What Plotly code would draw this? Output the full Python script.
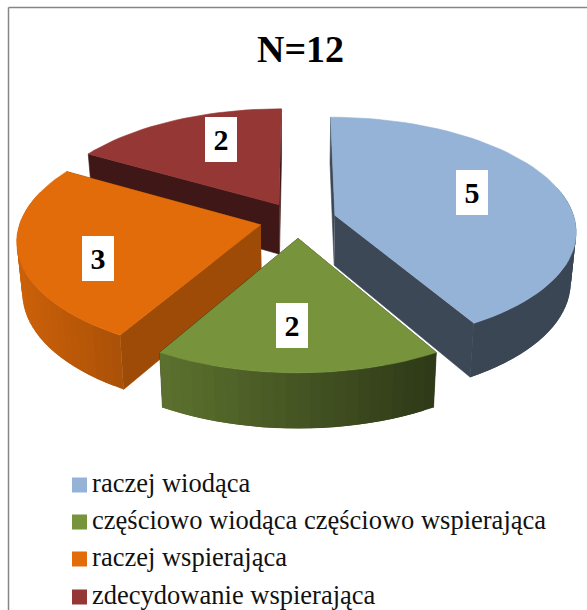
import numpy as np
import plotly.graph_objects as go

categories = ["raczej wiodąca", "częściowo wiodąca częściowo wspierająca",
              "raczej wspierająca", "zdecydowanie wspierająca"]
values = [5, 2, 3, 2]
colors = ["#95b3d7", "#77933c", "#e26b0a", "#953735"]
title_text = "N=12"

# pseudo-3D pie geometry (pixels)
CX, CY, R, RB, K, EXPLODE, H, DEPTH_SCALE = 298, 220, 240, 112, 0.129, 0.16, 50, 0.98
CUT_SHADE = [0.40, 0.40, 0.70, 0.42]
DRAW_ORDER = [3, 0, 2, 1]
LABEL_POS = [(472, 192.5), (292, 325.5), (98, 258.5), (221, 139.5)]


def top(u, v):
    w = 1 + K * v
    return CX + R * u / w, CY - RB * v / w


def bottom(u, v):
    x, y = top(u, v)
    w = 1 + K * v
    return CX + (x - CX) * DEPTH_SCALE, CY + (y - CY) * DEPTH_SCALE + H / w


def shade(hex_color, f):
    r, g, b = (int(hex_color[i:i + 2], 16) for i in (1, 3, 5))
    return f"rgb({r * f:.0f},{g * f:.0f},{b * f:.0f})"


def poly(fig, xs, ys, color, lw=0.6):
    fig.add_trace(go.Scatter(x=list(xs), y=list(ys), mode="lines", fill="toself",
                             fillcolor=color, line=dict(color=color, width=lw),
                             hoverinfo="skip", showlegend=False))


fig = go.Figure()

total = sum(values)
edges = np.cumsum([0] + values) / total * 2 * np.pi
for i in DRAW_ORDER:
    a0, a1 = edges[i], edges[i + 1]
    mid = (a0 + a1) / 2
    ou, ov = EXPLODE * np.sin(mid), EXPLODE * np.cos(mid)
    t = np.linspace(a0, a1, int(values[i] * 12) + 1)
    u = ou + np.sin(t)
    v = ov + np.cos(t)
    col = colors[i]

    # flat cut faces, far one first
    faces = sorted([(a0, u[0], v[0]), (a1, u[-1], v[-1])], key=lambda f: -f[2])
    for _, fu, fv in faces:
        p = [top(ou, ov), top(fu, fv), bottom(fu, fv), bottom(ou, ov)]
        poly(fig, [q[0] for q in p], [q[1] for q in p], shade(col, CUT_SHADE[i]))

    # curved outer wall, shaded by screen position; strips overlap so no seams show
    n = len(t)
    for j in range(n - 1):
        if (v[j] + v[j + 1]) / 2 - ov > 0.25:
            continue
        k = min(j + 2, n - 1)
        idx = list(range(j, k + 1))
        upper = [top(u[m], v[m]) for m in idx]
        lower = [bottom(u[m], v[m]) for m in reversed(idx)]
        p = upper + lower
        xm = (top(u[j], v[j])[0] + top(u[j + 1], v[j + 1])[0]) / 2
        f = float(np.interp(xm, [18, 124, 161, 434], [0.90, 0.75, 0.77, 0.39]))
        poly(fig, [q[0] for q in p], [q[1] for q in p], shade(col, f), lw=0)

    # top surface
    xt, yt = top(np.r_[ou, u], np.r_[ov, v])
    poly(fig, xt, yt, col)

# legend drawn as swatches with text
legend_y = [485, 522, 559, 597]
for c, col, y in zip(categories, colors, legend_y):
    fig.add_trace(go.Scatter(x=[79.5], y=[y], mode="markers+text",
                             marker=dict(symbol="square", size=15, color=col, line=dict(width=0)),
                             text=["\u200a" + c], textposition="middle right",
                             textfont=dict(family="Liberation Serif", size=26.5, color="#111111"),
                             hoverinfo="skip", showlegend=False, cliponaxis=False))

annotations = [dict(x=300, y=49, xref="x", yref="y", text=f"<b>{title_text}</b>", showarrow=False,
                    font=dict(family="Liberation Serif", size=38, color="black"))]
for val, (lx, ly) in zip(values, LABEL_POS):
    annotations.append(dict(x=lx, y=ly, xref="x", yref="y", text=f"<b>{val}</b>", showarrow=False,
                            width=32, height=45, bgcolor="white", borderpad=0, borderwidth=0,
                            align="center", valign="middle",
                            font=dict(family="Liberation Serif", size=30, color="black")))

fig.update_layout(
    width=587, height=610, margin=dict(l=0, r=0, t=0, b=0),
    paper_bgcolor="white", plot_bgcolor="white", showlegend=False,
    xaxis=dict(range=[0, 587], visible=False, fixedrange=True),
    yaxis=dict(range=[610, 0], visible=False, fixedrange=True),
    annotations=annotations,
    shapes=[dict(type="line", xref="x", yref="y", x0=8.5, x1=8.5, y0=7.5, y1=610,
                 line=dict(color="#868686", width=1.5)),
            dict(type="line", xref="x", yref="y", x0=8.5, x1=587, y0=7.5, y1=7.5,
                 line=dict(color="#868686", width=1.5))],
)
fig.write_html("out.html", config=dict(displayModeBar=False),
               post_script="document.body.style.margin='0';document.body.style.overflow='hidden';")
